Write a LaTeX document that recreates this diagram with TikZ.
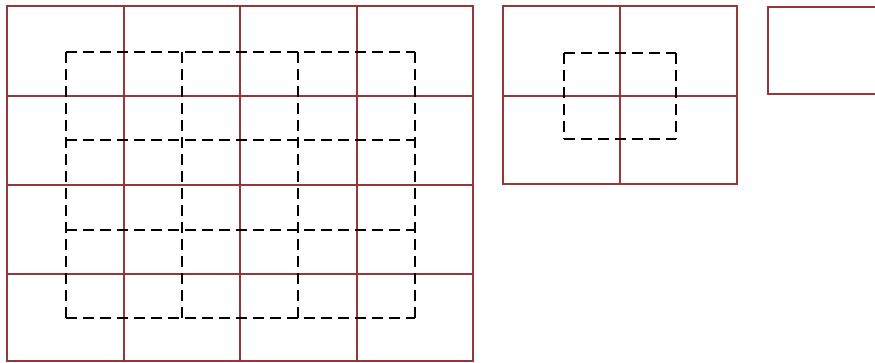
\documentclass[tikz,border=0pt]{standalone}
\begin{document}
\begin{tikzpicture}[x=1pt,y=-1pt,
  cell/.style={draw=gridred,line width=1.3pt},
  dline/.style={draw=black,line width=1.8pt,dash pattern=on 11pt off 6pt}]
\definecolor{gridred}{RGB}{150,55,55}
\useasboundingbox (0,0) rectangle (875,362);
\clip (0,0) rectangle (875,362);
% left 4x4 grid
\draw[cell] (7,6) rectangle (473,361);
\foreach \x in {124,240,357} \draw[cell] (\x,6) -- (\x,361);
\foreach \y in {96,185,274} \draw[cell] (7,\y) -- (473,\y);
% left dashed 3x3 grid
\draw[dline] (66,52) -- (415,52);
\draw[dline] (66,140) -- (415,140);
\draw[dline] (66,230) -- (415,230);
\draw[dline] (66,318) -- (415,318);
\draw[dline] (66,52) -- (66,318);
\draw[dline] (182,52) -- (182,318);
\draw[dline] (298,52) -- (298,318);
\draw[dline] (415,52) -- (415,318);
% middle 2x2 grid
\draw[cell] (503,6) rectangle (737,184);
\draw[cell] (620,6) -- (620,184);
\draw[cell] (503,96) -- (737,96);
% middle dashed square
\draw[dline] (564,53) -- (676,53);
\draw[dline] (564,139) -- (676,139);
\draw[dline] (564,53) -- (564,139);
\draw[dline] (676,53) -- (676,139);
% right rectangle (cut off)
\draw[cell] (768,7) rectangle (890,94);
\end{tikzpicture}
\end{document}
